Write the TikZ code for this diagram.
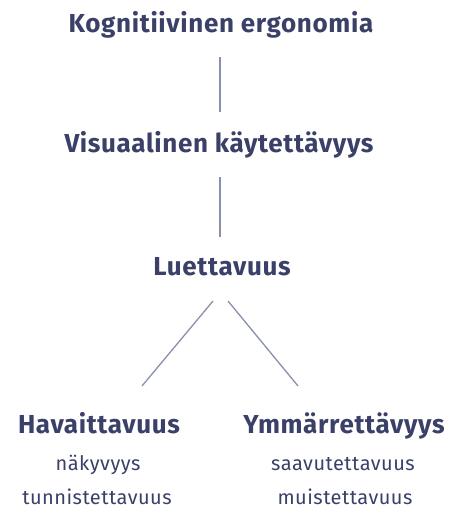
\documentclass[tikz,border=0pt]{standalone}
\usepackage{fontspec}
\setmainfont{Fira Sans}[LetterSpace=2.5]
\definecolor{ink}{HTML}{3A4068}
\definecolor{linec}{HTML}{8A8FAB}
\begin{document}
\begin{tikzpicture}[x=1pt,y=-1pt,
  head/.style={font=\fontsize{26}{30}\selectfont\bfseries, text=ink, inner sep=0pt, anchor=base},
  sub/.style={font=\fontsize{20}{24}\selectfont, text=ink, inner sep=0pt, anchor=base},
  conn/.style={draw=linec, line width=1.3pt}]
\useasboundingbox (0,0) rectangle (448,509);
\node[head] (k) at (221,32) {Kognitiivinen ergonomia};
\node[head] (v) at (219,152) {Visuaalinen käytettävyys};
\node[head] (l) at (222,275) {Luettavuus};
\node[head] (h) at (99,433) {Havaittavuus};
\node[head] (y) at (344,433) {Ymmärrettävyys};
\node[sub] (h1) at (98,470) {näkyvyys};
\node[sub] (h2) at (97,504) {tunnistettavuus};
\node[sub] (y1) at (343,470) {saavutettavuus};
\node[sub] (y2) at (345,504) {muistettavuus};
\coordinate (k1) at (220,57); \coordinate (k2) at (220,112);
\coordinate (v1) at (220,177); \coordinate (v2) at (220,237);
\coordinate (la) at (213,301); \coordinate (lb) at (142,386);
\coordinate (lc) at (228,301); \coordinate (ld) at (298,386);
\draw[conn] (k1) -- (k2);
\draw[conn] (v1) -- (v2);
\draw[conn] (la) -- (lb);
\draw[conn] (lc) -- (ld);
\end{tikzpicture}
\end{document}
